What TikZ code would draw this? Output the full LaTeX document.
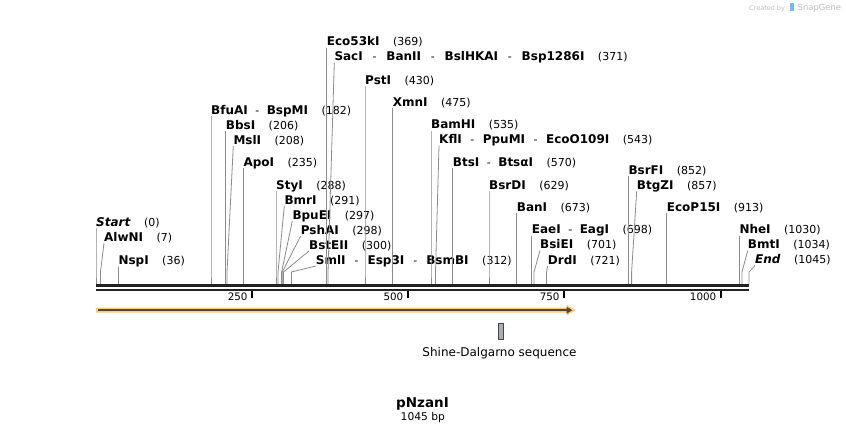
\documentclass[tikz,border=0pt]{standalone}
\usepackage{fontspec}
\setmainfont{DejaVu Sans}
\usetikzlibrary{arrows.meta}
\definecolor{leadergray}{RGB}{140,140,140}
\definecolor{mapdark}{RGB}{34,34,34}
\definecolor{featorange}{RGB}{251,202,125}
\definecolor{featdark}{RGB}{88,72,52}
\definecolor{sdfill}{RGB}{168,174,182}
\definecolor{sdedge}{RGB}{70,70,70}
\definecolor{sglight}{RGB}{190,190,190}
\definecolor{sgblue}{RGB}{120,185,235}
\newcommand\numfont{\mdseries\upshape\fontsize{11}{13}\selectfont}
\newcommand\enzsep[1][0pt]{{\numfont\hspace{\dimexpr7.5pt+#1\relax}-\hspace{\dimexpr7.5pt+#1\relax}}}
\tikzset{
  enz/.style={anchor=base west, inner sep=0pt, font=\fontsize{12}{14}\selectfont\bfseries},
  leader/.style={draw=leadergray, line width=0.8pt},
  maprule/.style={draw=mapdark},
  ticklbl/.style={anchor=base east, inner sep=0pt, font=\fontsize{10.3}{12}\selectfont},
  tickmark/.style={draw=black, line width=1.8pt},
}
% #1 id, #2 label x, #3 baseline y, #4 site x, #5 names, #6 position
\newcommand\enzlabel[6]{%
  \node[enz] (#1) at (#2,#3) {#5\hspace{13.5pt}{\numfont(#6)}};
  \coordinate (#1-b) at (#4,272);
  \coordinate (#1-s) at (#4,284);
  \draw[leader] ([yshift=-2pt]#1.base west) -- (#1-b) -- (#1-s);
}
\begin{document}
\begin{tikzpicture}[x=1pt,y=-1pt]
\useasboundingbox (0,0) rectangle (846,434);
\fill[white] (0,0) rectangle (846,434);

% watermark
\node[anchor=base west, inner sep=0pt, text=sglight, font=\fontsize{6.5}{8}\selectfont] (created) at (749,10) {Created by};
\fill[sgblue] (790,2.5) rectangle (793.5,11);
\node[anchor=base west, inner sep=0pt, text=sglight, font=\fontsize{8.4}{10}\selectfont] (snapgene) at (797.5,10.5) {SnapGene};

% enzyme labels
\enzlabel{Start}{96}{226}{96}{\textit{Start}}{0}
\enzlabel{AlwNI}{104}{241}{100.5}{AlwNI}{7}
\enzlabel{NspI}{118.3}{264.3}{118.5}{NspI}{36}
\enzlabel{BfuAI}{211}{114}{211}{BfuAI\enzsep BspMI}{182}
\enzlabel{BbsI}{225.7}{129}{225.7}{BbsI}{206}
\enzlabel{MslI}{233.3}{144}{227}{MslI}{208}
\enzlabel{ApoI}{243.3}{166}{243.3}{ApoI}{235}
\enzlabel{StyI}{276}{189}{276}{StyI}{288}
\enzlabel{BmrI}{284.3}{204}{278}{BmrI}{291}
\enzlabel{BpuEI}{292.3}{219}{281.6}{BpuEI}{297}
\enzlabel{PshAI}{300.7}{234}{282.3}{PshAI}{298}
\enzlabel{BstEII}{309}{249}{283.5}{BstEII}{300}
\enzlabel{SmlI}{315.7}{264}{291.5}{SmlI\enzsep[1.5pt]Esp3I\enzsep[1.5pt]BsmBI}{312}
\enzlabel{Eco53kI}{326.7}{45.7}{326.7}{Eco53kI}{369}
\enzlabel{SacI}{334.3}{60.7}{328}{SacI\enzsep[2.3pt]BanII\enzsep[2.3pt]BslHKAI\enzsep[2.3pt]Bsp1286I}{371}
\enzlabel{PstI}{365}{84}{365}{PstI}{430}
\enzlabel{XmnI}{392.7}{106}{392.7}{XmnI}{475}
\enzlabel{BamHI}{431}{128.5}{431}{BamHI}{535}
\enzlabel{KflI}{439}{143.5}{435.5}{KflI\enzsep[1pt]PpuMI\enzsep[1pt]EcoO109I}{543}
\enzlabel{BtsI}{452.7}{166}{452.7}{BtsI\enzsep BtsαI}{570}
\enzlabel{BsrDI}{489}{189}{489}{BsrDI}{629}
\enzlabel{BanI}{516.7}{211}{516.7}{BanI}{673}
\enzlabel{EaeI}{531.7}{233.5}{531.7}{EaeI\enzsep EagI}{698}
\enzlabel{BsiEI}{540}{248.5}{534}{BsiEI}{701}
\enzlabel{DrdI}{547.7}{264}{546.5}{DrdI}{721}
\enzlabel{BsrFI}{628.3}{174}{628.3}{BsrFI}{852}
\enzlabel{BtgZI}{636.7}{189}{631.6}{BtgZI}{857}
\enzlabel{EcoPfI}{666.7}{211}{666.7}{EcoP15I}{913}
\enzlabel{NheI}{739.3}{233.5}{739.3}{NheI}{1030}
\enzlabel{BmtI}{747.7}{248.7}{742}{BmtI}{1034}
\enzlabel{End}{755}{263.5}{749}{\textit{End}}{1045}

% map (double line)
\coordinate (mapL1) at (96,285.5);
\coordinate (mapR1) at (749.3,285.5);
\coordinate (mapL2) at (96,290);
\coordinate (mapR2) at (749.3,290);
\draw[maprule, line width=3pt] (mapL1) -- (mapR1);
\draw[maprule, line width=2.7pt] (mapL2) -- (mapR2);

% ticks
\foreach \tx/\tl/\tn in {252/250/t250, 407.7/500/t500, 564/750/t750, 720.7/1000/t1000}{
  \coordinate (\tn-a) at (\tx,291.3);
  \coordinate (\tn-b) at (\tx,297.5);
  \draw[tickmark] (\tn-a) -- (\tn-b);
  \node[ticklbl] (\tn) at (\tx-4.3,300.7) {\tl};
}

% feature arrow
\fill[featorange] (96,307.7) -- (566.7,307.7) -- (566.7,305) -- (575.5,310.2) -- (566.7,315.5) -- (566.7,312.7) -- (96,312.7) -- cycle;
\coordinate (featL) at (98,310.2);
\coordinate (featR) at (572.5,310.2);
\draw[featdark, line width=1.6pt, -{Triangle[length=6pt,width=6.5pt]}] (featL) -- (featR);

% Shine-Dalgarno
\node[draw=sdedge, fill=sdfill, line width=0.8pt, minimum width=5.5pt, minimum height=16pt, inner sep=0pt] (sd) at (501,331) {};
\node[anchor=base, inner sep=0pt, font=\fontsize{12}{14}\selectfont] (sdlbl) at (499.5,356.3) {Shine-Dalgarno sequence};

% title
\node[anchor=base, inner sep=0pt, font=\fontsize{13.5}{16}\selectfont\bfseries] (title) at (422.5,407.5) {pNzanI};
\node[anchor=base, inner sep=0pt, font=\fontsize{10.7}{13}\selectfont] (bp) at (422.8,420.8) {1045 bp};
\end{tikzpicture}
\end{document}
